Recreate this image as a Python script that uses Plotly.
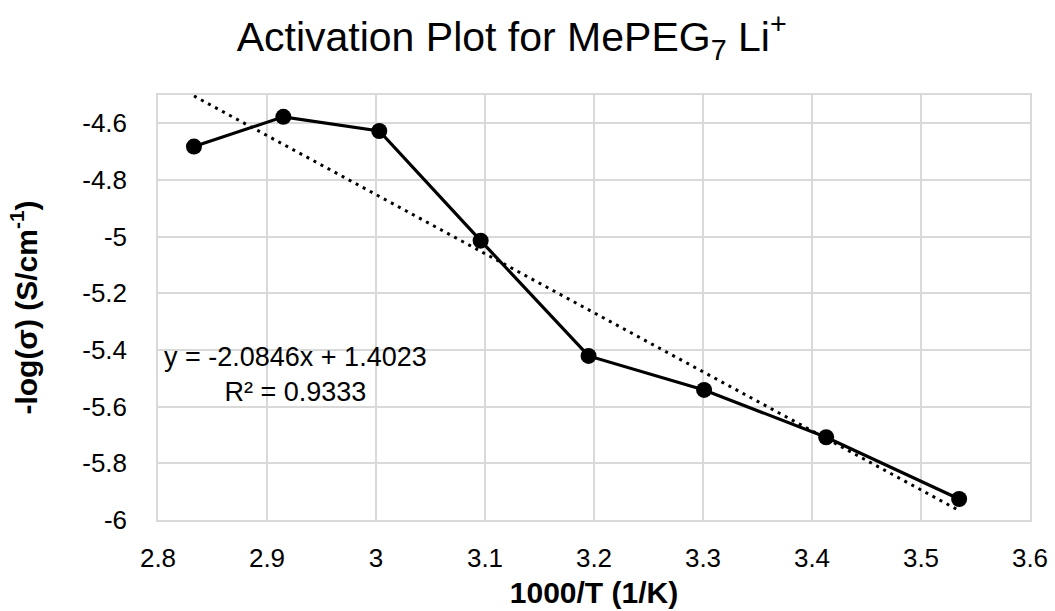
import plotly.graph_objects as go
import numpy as np

# Data
inv_T = [2.833, 2.915, 3.003, 3.096, 3.195, 3.301, 3.413, 3.535]
neg_log_sigma = [-4.682, -4.577, -4.627, -5.014, -5.421, -5.541, -5.708, -5.926]

# Linear trendline shown on the chart
slope = -2.0846
intercept = 1.4023
r_squared = 0.9333

x_ticks = [2.8, 2.9, 3.0, 3.1, 3.2, 3.3, 3.4, 3.5, 3.6]
x_tick_text = ["2.8", "2.9", "3", "3.1", "3.2", "3.3", "3.4", "3.5", "3.6"]
y_ticks = [-6, -5.8, -5.6, -5.4, -5.2, -5, -4.8, -4.6]
y_tick_text = ["-6", "-5.8", "-5.6", "-5.4", "-5.2", "-5", "-4.8", "-4.6"]

FONT = "Liberation Sans, Arial, sans-serif"
GRID = "#d9d9d9"

trend_x = np.array([min(inv_T), max(inv_T)])
trend_y = slope * trend_x + intercept

fig = go.Figure()
fig.add_trace(go.Scatter(
    x=trend_x, y=trend_y, mode="lines",
    line=dict(color="black", width=3, dash="3px,5px"),
    showlegend=False, hoverinfo="skip"))
fig.add_trace(go.Scatter(
    x=inv_T, y=neg_log_sigma, mode="lines+markers",
    line=dict(color="black", width=3.2),
    marker=dict(color="black", size=16),
    showlegend=False))

fig.add_annotation(
    x=2.926, y=-5.485, xref="x", yref="y",
    text=f"y = {slope}x + {intercept}<br>R² = {r_squared}",
    showarrow=False, align="center",
    font=dict(family=FONT, size=27, color="black"))

fig.update_layout(
    width=1055, height=611,
    margin=dict(l=158, r=25, t=95, b=91),
    paper_bgcolor="white", plot_bgcolor="white",
    font=dict(family=FONT, color="black"),
    title=dict(text="Activation Plot for MePEG<sub>7</sub> Li<sup>+</sup>",
               x=0.485, xanchor="center", y=0.94, yanchor="middle",
               font=dict(family=FONT, size=41, color="black")),
    xaxis=dict(range=[2.8, 3.6], tickvals=x_ticks, ticktext=x_tick_text,
               showgrid=True, gridcolor=GRID, gridwidth=1.5,
               showline=True, linecolor=GRID, linewidth=1.5, mirror=True,
               zeroline=False, ticks="", ticklabelstandoff=14, automargin=False,
               tickfont=dict(family=FONT, size=26, color="black"),
               title=dict(text="<b>1000/T (1/K)</b>", standoff=10,
                          font=dict(family=FONT, size=30, color="black"))),
    yaxis=dict(range=[-6, -4.5], tickvals=y_ticks, ticktext=y_tick_text,
               showgrid=True, gridcolor=GRID, gridwidth=1.5,
               showline=True, linecolor=GRID, linewidth=1.5, mirror=True,
               zeroline=False, ticks="", ticklabelstandoff=24, automargin=False,
               tickfont=dict(family=FONT, size=26, color="black"),
               title=dict(text="<b>-log(σ) (S/cm<sup>-1</sup>)</b>", standoff=36,
                          font=dict(family=FONT, size=30, color="black"))),
)

fig.write_html("out.html")
